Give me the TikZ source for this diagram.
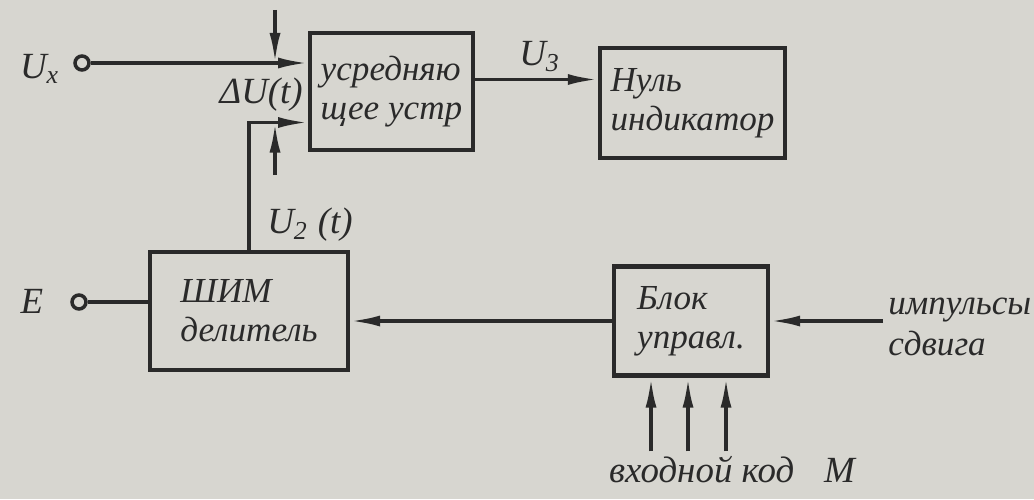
\documentclass[tikz,border=0pt]{standalone}
\usepackage{fontspec}
\setmainfont{Liberation Serif}
\usetikzlibrary{arrows.meta,positioning,calc}
\definecolor{cpaper}{HTML}{D7D6D0}
\definecolor{cink}{HTML}{2A2A2A}
\tikzset{
  blk/.style={draw,line width=1.2pt,align=left,inner sep=3pt,font=\itshape\fontsize{10}{11}\selectfont},
  lbl/.style={inner sep=1pt,font=\itshape\fontsize{10.5}{11.5}\selectfont},
  term/.style={circle,draw,line width=1pt,fill=cpaper,inner sep=0pt,minimum size=1.4mm},
  >={Latex[length=3mm,width=1.1mm]}
}

\begin{document}
\begin{tikzpicture}[line width=1pt,color=cink]
    \fill[cpaper] (0,0) rectangle (10.34,4.99);
    \useasboundingbox (0,0) rectangle (10.34,4.99);
    % blocks
    \node[blk,minimum width=1.57cm,minimum height=1.17cm] (avg) at (3.915,4.075) {усредняю\\щее устр};
    \node[blk,minimum width=1.51cm,minimum height=1.10cm] (nul) at (6.925,3.96) {Нуль\\индикатор};
    \node[blk,minimum width=1.98cm,minimum height=1.18cm] (pwm) at (2.49,1.88) {ШИМ\\делитель};
    \node[blk,minimum width=1.54cm,minimum height=1.09cm] (ctrl) at (6.91,1.78) {Блок\\управл.};
    % inputs and labels
    \node[term] (ux) at (0.82,4.36) {};
    \node[lbl] (uxl) at (0.4,4.3) {U\textsubscript{x}};
    \node[term] (et) at (0.79,1.97) {};
    \node[lbl] (el) at (0.32,1.98) {E};
    \node[lbl,anchor=east] (du) at (3.08,4.04) {ΔU(t)};
    \node[lbl] (u2) at (3.1,2.74) {U\textsubscript{2} (t)};
    \node[lbl,anchor=south] (u3) at (5.4,4.22) {U\textsubscript{3}};
    \node[lbl,align=left,anchor=west,font=\itshape\fontsize{10}{11.5}\selectfont] (imp) at (8.83,1.72) {импульсы\\сдвига};
    \node[lbl] (code) at (7.32,0.29) {входной код\hspace{0.3cm}М};
    \coordinate (u2in) at ($(avg.west)+(0,-0.31)$);
    \coordinate (u3out) at ($(avg.east)+(0,0.12)$);
    \coordinate (dtop) at (2.75,4.89);
    \coordinate (dbot) at (2.75,3.24);
    % connectors
    \draw[->] (ux.east) -- (ux -| avg.west);
    \draw[->] (pwm.north) |- (u2in);
    \draw[->] (dtop) -- (dtop |- ux);
    \draw[->] (dbot) -- (dbot |- u2in);
    \draw[->] (u3out) -- (u3out -| nul.west);
    \draw (et.east) -- (et -| pwm.west);
    \draw[->] (ctrl.west) -- (ctrl.west -| pwm.east);
    \draw[->] (ctrl.east -| imp.west) -- (ctrl.east);
    \foreach \dx in {-0.40,-0.03,0.35} {
      \path (ctrl.south) ++(\dx,0) coordinate (kin);
      \draw[->] (kin |- code.north) -- (kin);
    }
\end{tikzpicture}
\end{document}
